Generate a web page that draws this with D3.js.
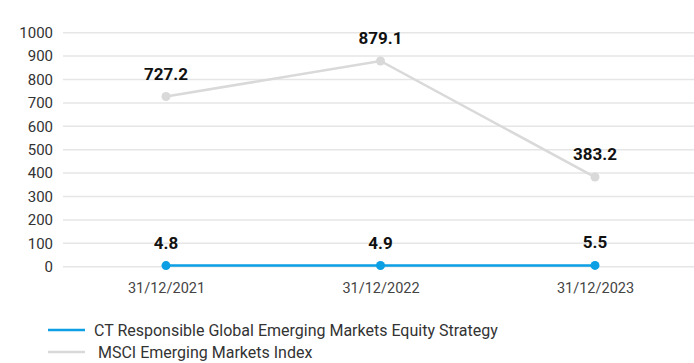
<!DOCTYPE html>
<html><head><meta charset="utf-8">
<script src="https://cdn.jsdelivr.net/npm/d3@7"></script>
<style>body{margin:0;background:#fff;font-family:Roboto,"Noto Sans",sans-serif;}</style>
</head><body><svg id="c" width="694" height="363"></svg>
<script>
const categories = ["31/12/2021","31/12/2022","31/12/2023"];
const strategyValues = [4.8, 4.9, 5.5];
const indexValues = [727.2, 879.1, 383.2];
const yTicks = [0,100,200,300,400,500,600,700,800,900,1000];
const seriesNames = ["CT Responsible Global Emerging Markets Equity Strategy", " MSCI Emerging Markets Index"];
const colors = ["#0d9fe3", "#d9d9d9"];

const svg = d3.select("#c");
const x = d3.scalePoint().domain(categories).range([166, 595]);
const y = d3.scaleLinear().domain([0,1000]).range([266.7, 32.7]);

// grid
svg.append("g").selectAll("line").data(yTicks).join("line")
  .attr("x1",63).attr("x2",694).attr("y1",d=>y(d)).attr("y2",d=>y(d))
  .attr("stroke","#e6e6e6").attr("stroke-width",1.5);

// y axis
const ya = svg.append("g").attr("transform","translate(53,0)")
  .call(d3.axisLeft(y).tickValues(yTicks).tickFormat(d3.format("d")).tickSize(0).tickPadding(0));
ya.select(".domain").remove();
ya.selectAll("text").attr("font-family","Roboto").attr("font-size",15).attr("fill","#333");

// x axis
const xa = svg.append("g").attr("transform","translate(0,283)")
  .call(d3.axisBottom(x).tickSize(0).tickPadding(0));
xa.select(".domain").remove();
xa.selectAll("text").attr("font-family","Roboto").attr("font-size",14.5).attr("fill","#444").attr("dy","0.71em");

const line = d3.line().x((d,i)=>x(categories[i])).y(d=>y(d));
const series = [strategyValues, indexValues];
[1,0].forEach(s=>{
  const g = svg.append("g");
  g.append("path").datum(series[s]).attr("d",line).attr("fill","none")
    .attr("stroke",colors[s]).attr("stroke-width",2.5);
  g.selectAll("circle").data(series[s]).join("circle")
    .attr("cx",(d,i)=>x(categories[i])).attr("cy",d=>y(d)).attr("r",4.5).attr("fill",colors[s]);
  g.selectAll("text").data(series[s]).join("text")
    .attr("x",(d,i)=>x(categories[i])).attr("y",d=>y(d)-17)
    .attr("text-anchor","middle").attr("font-family","Roboto").attr("font-weight","bold")
    .attr("font-size",17).attr("fill","#111").text(d=>d.toFixed(1));
});

// legend
const lg = svg.append("g");
seriesNames.forEach((n,i)=>{
  const yy = 330 + i*22;
  lg.append("line").attr("x1",48).attr("x2",85).attr("y1",yy).attr("y2",yy)
    .attr("stroke",colors[i]).attr("stroke-width",2.5);
  lg.append("text").attr("x",94).attr("y",yy).attr("dy","0.35em")
    .attr("font-family","Roboto").attr("font-size",16).attr("fill","#333")
    .attr("xml:space","preserve").style("white-space","pre").text(n);
});
</script></body></html>
